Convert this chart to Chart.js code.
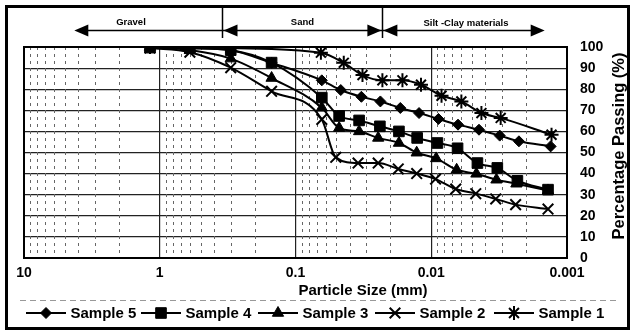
<!DOCTYPE html>
<html><head><meta charset="utf-8">
<script src="https://cdn.jsdelivr.net/npm/chart.js@4.4.1/dist/chart.umd.min.js"></script>
<style>html,body{margin:0;padding:0;background:#fff;}canvas{display:block;}</style>
</head><body>
<canvas id="c" width="632" height="334"></canvas>
<script>
// ---- data ----
const xTickValues = [10, 1, 0.1, 0.01, 0.001];
const xTickLabels = ['10', '1', '0.1', '0.01', '0.001'];
const yTickValues = [0, 10, 20, 30, 40, 50, 60, 70, 80, 90, 100];
const seriesNames = ['Sample 5', 'Sample 4', 'Sample 3', 'Sample 2', 'Sample 1'];

const size5 = [1.18, 0.6, 0.3, 0.15, 0.064, 0.0464, 0.0327, 0.0237, 0.0169, 0.0123, 0.00885, 0.00635, 0.00445, 0.00313, 0.00226, 0.00132];
const pass5 = [100, 99.5, 98.5, 92.5, 84.2, 79.6, 76.4, 74.2, 71.1, 68.7, 65.9, 63.2, 60.8, 58.0, 55.3, 52.9];

const size4 = [1.18, 0.6, 0.3, 0.15, 0.064, 0.0477, 0.034, 0.0239, 0.0173, 0.0127, 0.009, 0.0064, 0.00457, 0.00326, 0.00232, 0.00138];
const pass4 = [99.7, 99.4, 98.5, 92.6, 76.0, 67.3, 65.2, 62.4, 60.0, 56.9, 54.5, 52.0, 45.0, 42.7, 36.6, 32.4];

const size3 = [1.18, 0.6, 0.3, 0.15, 0.064, 0.0477, 0.034, 0.0246, 0.0173, 0.0128, 0.0092, 0.0065, 0.00465, 0.00331, 0.00236, 0.00138];
const pass3 = [100, 98.5, 94.5, 85.3, 71.2, 61.6, 60.0, 56.9, 54.5, 49.9, 47.2, 41.8, 39.9, 37.1, 35.2, 32.0];

const size2 = [1.18, 0.6, 0.3, 0.15, 0.064, 0.0505, 0.0346, 0.0246, 0.0175, 0.0128, 0.0093, 0.0066, 0.0047, 0.00335, 0.00239, 0.00138];
const pass2 = [99.5, 97.5, 90.2, 79.0, 65.7, 47.7, 45.0, 45.0, 42.2, 40.0, 37.4, 32.7, 30.5, 28.0, 25.3, 23.2];

const size1 = [1.18, 0.6, 0.3, 0.065, 0.0441, 0.0321, 0.0229, 0.0163, 0.0119, 0.0084, 0.006, 0.00427, 0.00308, 0.0013];
const pass1 = [100, 100, 99.5, 97.3, 92.5, 86.7, 84.2, 84.2, 82.1, 76.9, 74.2, 68.7, 66.4, 58.4];

const zoneNames = ['Gravel', 'Sand', 'Silt -Clay materials'];
// zone edges in particle size (mm): gravel arrow tip, gravel/sand divider, sand/silt divider, silt arrow tip
const zoneEdges = [4.26, 0.345, 0.0229, 0.00146];

// ---- styles ----
const FONT = '"Liberation Sans", Arial, Helvetica, sans-serif';
const pointStyles = ['rectRot', 'rect', 'triangle', 'crossRot', 'star'];
const pointRadii = [5.5, 7.5, 6.5, 7.5, 7];

const sizes = [size5, size4, size3, size2, size1];
const passes = [pass5, pass4, pass3, pass2, pass1];

const datasets = seriesNames.map((name, i) => ({
  label: name,
  order: seriesNames.length - i,
  data: sizes[i].map((s, k) => ({ x: s, y: passes[i][k] })),
  borderColor: '#000',
  backgroundColor: '#000',
  borderWidth: 2,
  pointStyle: pointStyles[i],
  pointRadius: pointRadii[i],
  pointBorderWidth: (pointStyles[i] === 'crossRot' || pointStyles[i] === 'star') ? 2 : 1,
  pointBackgroundColor: '#000',
  pointBorderColor: '#000',
  cubicInterpolationMode: 'monotone',
  fill: false
}));

function arrowHead(ctx, tipX, y, dir) {
  ctx.beginPath();
  ctx.moveTo(tipX, y);
  ctx.lineTo(tipX - dir * 14, y - 6);
  ctx.lineTo(tipX - dir * 14, y + 6);
  ctx.closePath();
  ctx.fill();
}

const deco = {
  id: 'deco',
  beforeDatasetsDraw(chart) {
    const { ctx, chartArea: a, scales: { x } } = chart;
    ctx.save();
    ctx.strokeStyle = '#666';
    ctx.lineWidth = 1;
    ctx.setLineDash([3, 4]);
    for (let e = -3; e < 1; e++) {
      for (let m = 2; m <= 9; m++) {
        const px = Math.round(x.getPixelForValue(m * Math.pow(10, e))) + 0.5;
        ctx.beginPath(); ctx.moveTo(px, a.top); ctx.lineTo(px, a.bottom); ctx.stroke();
      }
    }
    ctx.restore();
  },
  afterDraw(chart) {
    const { ctx, chartArea: a, scales: { x } } = chart;
    ctx.save();
    ctx.strokeStyle = '#000'; ctx.lineWidth = 2;
    ctx.strokeRect(a.left, a.top, a.right - a.left, a.bottom - a.top);
    ctx.lineWidth = 3;
    ctx.strokeRect(6.5, 6.5, 622, 322);

    const ex = zoneEdges.map(v => x.getPixelForValue(v));
    const ay = 30.5;
    ctx.lineWidth = 1.5; ctx.fillStyle = '#000';
    [ex[1], ex[2]].forEach(px => {
      ctx.beginPath(); ctx.moveTo(Math.round(px) + 0.5, 8); ctx.lineTo(Math.round(px) + 0.5, 38); ctx.stroke();
    });
    ctx.beginPath(); ctx.moveTo(ex[0] + 10, ay); ctx.lineTo(ex[3] - 10, ay); ctx.stroke();
    arrowHead(ctx, ex[0], ay, -1);
    arrowHead(ctx, ex[1] + 1, ay, -1);
    arrowHead(ctx, ex[2] - 1, ay, 1);
    arrowHead(ctx, ex[2] + 1, ay, -1);
    arrowHead(ctx, ex[3], ay, 1);
    ctx.font = 'bold 9.5px ' + FONT;
    ctx.textAlign = 'center'; ctx.textBaseline = 'middle';
    ctx.fillText(zoneNames[0], 131, 22);
    ctx.fillText(zoneNames[1], (ex[1] + ex[2]) / 2, 22);
    ctx.fillText(zoneNames[2], 466, 23);

    ctx.font = 'bold 15px ' + FONT;
    ctx.fillText('Particle Size (mm)', 363, 291);
    ctx.save();
    ctx.translate(619, 146);
    ctx.rotate(-Math.PI / 2);
    ctx.font = 'bold 16.5px ' + FONT;
    ctx.fillText('Percentage Passing (%)', 0, 0);
    ctx.restore();

    ctx.strokeStyle = '#999'; ctx.lineWidth = 1; ctx.setLineDash([6, 4]);
    ctx.beginPath(); ctx.moveTo(20, 300.5); ctx.lineTo(619, 300.5); ctx.stroke();
    ctx.setLineDash([]);
    const starts = [26, 141, 258, 375, 494];
    const ly = 313;
    ctx.font = 'bold 15px ' + FONT;
    ctx.textAlign = 'left';
    seriesNames.forEach((name, i) => {
      const s = starts[i];
      ctx.strokeStyle = '#000'; ctx.fillStyle = '#000'; ctx.lineWidth = 2;
      ctx.beginPath(); ctx.moveTo(s, ly); ctx.lineTo(s + 40, ly); ctx.stroke();
      ctx.lineWidth = datasets[i].pointBorderWidth;
      Chart.helpers.drawPoint(ctx, { pointStyle: pointStyles[i], radius: pointRadii[i], rotation: 0, borderWidth: datasets[i].pointBorderWidth }, s + 20, ly);
      ctx.fillStyle = '#000';
      ctx.fillText(name, s + 44.5, ly + 1);
    });
    ctx.restore();
  }
};

new Chart(document.getElementById('c'), {
  type: 'line',
  data: { datasets },
  options: {
    responsive: false,
    animation: false,
    devicePixelRatio: 1,
    layout: { padding: { left: 24, top: 47, right: 0, bottom: 0 } },
    plugins: { legend: { display: false }, tooltip: { enabled: false } },
    scales: {
      x: {
        type: 'logarithmic',
        reverse: true,
        min: 0.001,
        max: 10,
        afterBuildTicks: s => { s.ticks = xTickValues.map(v => ({ value: v })); },
        afterFit: s => { s.height = 76; },
        ticks: {
          autoSkip: false,
          maxRotation: 0,
          padding: 7,
          color: '#000',
          font: { family: FONT, size: 14, weight: 'bold' },
          callback: (v) => { const i = xTickValues.indexOf(v); return i >= 0 ? xTickLabels[i] : ''; }
        },
        grid: { color: '#222', lineWidth: 1.2, drawTicks: false },
        border: { display: false }
      },
      y: {
        position: 'right',
        min: 0,
        max: 100,
        afterBuildTicks: s => { s.ticks = yTickValues.map(v => ({ value: v })); },
        afterFit: s => { s.width = 65; },
        ticks: {
          padding: 13,
          color: '#000',
          font: { family: FONT, size: 14, weight: 'bold' }
        },
        grid: { color: '#222', lineWidth: 1.2, drawTicks: false },
        border: { display: false }
      }
    }
  },
  plugins: [deco]
});
</script>
</body></html>
